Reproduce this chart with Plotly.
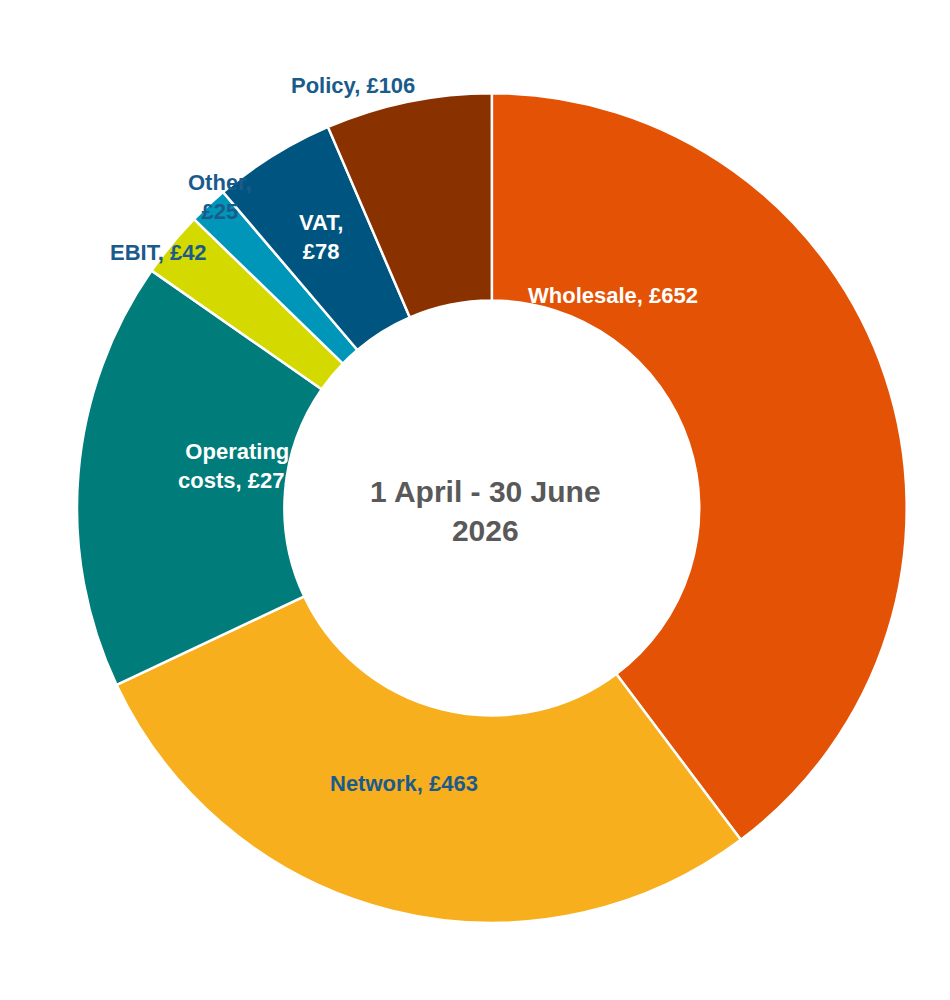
import plotly.graph_objects as go

categories = ["Wholesale", "Network", "Operating costs", "EBIT", "Other", "VAT", "Policy"]
values = [652, 463, 274, 42, 25, 78, 106]
colors = ["#E35205", "#F8AF1E", "#007C7A", "#D4D900", "#0096B9", "#005580", "#8A3100"]
label_text = ["Wholesale, £652", "Network, £463", "Operating<br>costs, £274", "EBIT, £42",
              "Other,<br>£25", "VAT,<br>£78", "Policy, £106"]
label_pos = [(0.728, 0.727), (0.417, 0.21), (0.177, 0.542), (0.105, 0.77),
             (0.187, 0.84), (0.304, 0.80), (0.363, 0.937)]
label_colors = ["white", "#1B5B8C", "white", "#1B5B8C", "#1B5B8C", "white", "#1B5B8C"]

fig = go.Figure(go.Pie(
    labels=categories, values=values, hole=0.5, sort=False, direction="clockwise",
    rotation=0, marker=dict(colors=colors, line=dict(color="white", width=2.5)),
    textinfo="none", hoverinfo="label+value",
    domain=dict(x=[0.0726, 0.946], y=[0.085, 0.915]),
))
anns = [dict(text=t, x=p[0], y=p[1], xref="paper", yref="paper", showarrow=False,
             font=dict(family="Liberation Sans, Arial", size=22, color=c))
        for t, p, c in zip(["<b>%s</b>" % s for s in label_text], label_pos, label_colors)]
anns.append(dict(text="<b>1 April - 30 June<br>2026</b>", x=0.503, y=0.497, xref="paper", yref="paper",
                 showarrow=False, font=dict(family="Liberation Sans, Arial", size=30, color="#595959")))
fig.update_layout(width=950, height=1000, margin=dict(l=0, r=0, t=0, b=0), showlegend=False,
                  paper_bgcolor="white", annotations=anns)
fig.write_html("out.html")
